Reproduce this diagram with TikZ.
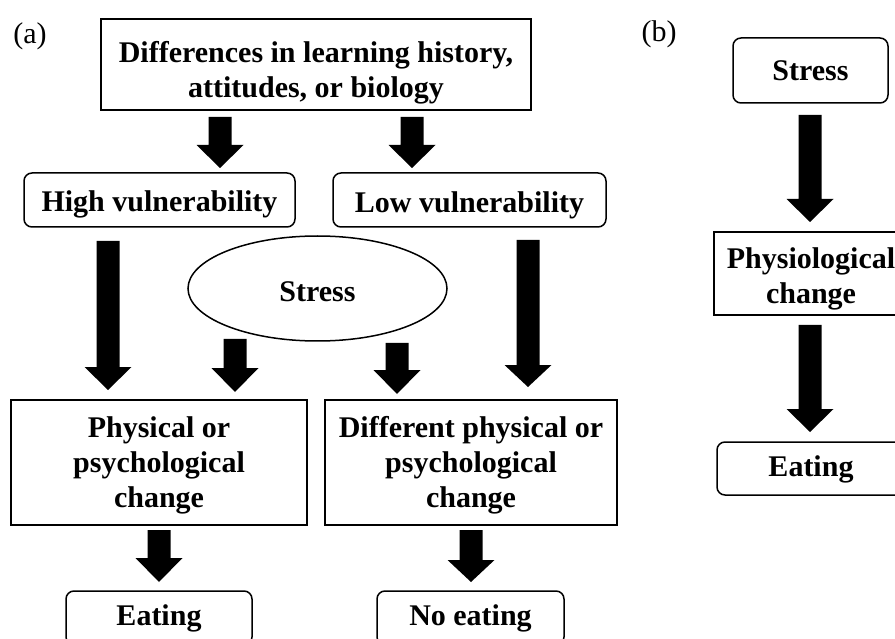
\documentclass[tikz,border=0pt]{standalone}
\usepackage{fontspec}
\setmainfont{Liberation Serif}
\usetikzlibrary{shapes.geometric}
\newcommand{\barrow}[4]{%
  \fill ({#1-11.5},#2) -- ({#1+11.5},#2) -- ({#1+11.5},#3) -- ({#1+23.5},#3)
        -- (#1,#4) -- ({#1-23.5},#3) -- ({#1-11.5},#3) -- cycle;}
\newcommand{\sr}[1]{\rule{0pt}{#1pt}}
\begin{document}
\begin{tikzpicture}[x=1pt,y=-1pt,
  every node/.style={font=\bfseries\fontsize{30}{35}\selectfont, align=center, inner sep=0pt},
  sqbox/.style={draw, line width=1.5pt, rectangle},
  rbox/.style={draw, line width=1.5pt, rectangle, rounded corners=8pt},
  ell/.style={draw, line width=1.5pt, ellipse}]
\clip (0,0) rectangle (895,639);
\fill[white] (0,0) rectangle (895,639);
\node[font=\fontsize{30}{35}\selectfont] (la) at (30,36) {(a)};
\node[font=\fontsize{30}{35}\selectfont] (lb) at (659,34) {(b)};
\node[sqbox, minimum width=430pt, minimum height=91pt] (top) at (316,64.5) {\sr{37.5}Differences in learning history,\\attitudes, or biology};
\node[rbox, minimum width=271pt, minimum height=54pt] (hv) at (159.5,200) {\sr{30.5}High vulnerability};
\node[rbox, minimum width=273pt, minimum height=54pt] (lv) at (469.5,200) {\sr{30.5}Low vulnerability};
\node[ell, minimum width=259pt, minimum height=105pt] (st) at (317.5,288.5) {\sr{26}Stress};
\node[sqbox, minimum width=296pt, minimum height=125pt] (ph) at (159,462.5) {\sr{27.5}Physical or\\psychological\\change};
\node[sqbox, minimum width=292pt, minimum height=125pt] (di) at (471,462.5) {\sr{27.5}Different physical or\\psychological\\change};
\node[rbox, minimum width=186pt, minimum height=54pt] (ea) at (159,618) {Eating};
\node[rbox, minimum width=187pt, minimum height=54pt] (ne) at (470.5,618) {No eating};
\node[rbox, minimum width=155pt, minimum height=65pt] (bs) at (810.5,70.5) {Stress};
\node[sqbox, minimum width=194pt, minimum height=83pt] (bp) at (811,273.5) {\sr{32.5}Physiological\\change};
\node[rbox, minimum width=188pt, minimum height=53pt] (be) at (811,468.5) {\sr{22.5}Eating};
\barrow{220}{117}{145}{168}
\barrow{412}{117}{145}{168}
\barrow{108}{241}{367}{390}
\barrow{235}{339}{368}{392}
\barrow{397}{343}{370}{394}
\barrow{528}{240}{365}{387}
\barrow{159}{530}{558}{582}
\barrow{471}{530}{560}{582}
\barrow{810}{115}{199}{222}
\barrow{810}{325}{409}{432}
\end{tikzpicture}
\end{document}
